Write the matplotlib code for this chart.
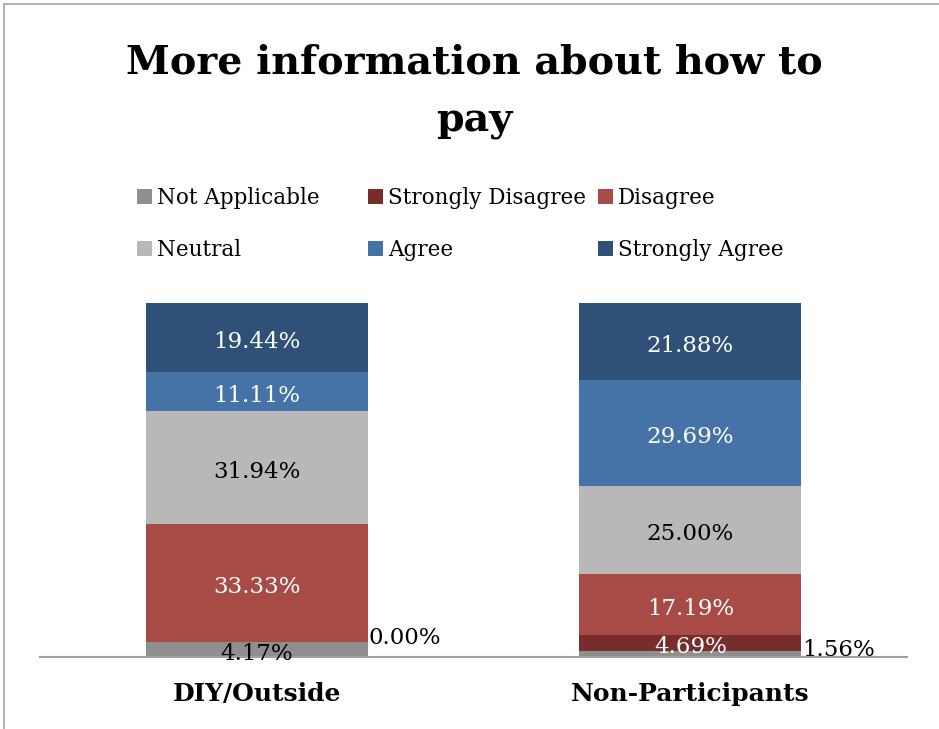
import matplotlib
matplotlib.use("Agg")
import matplotlib.pyplot as plt
from matplotlib.patches import Rectangle
import numpy as np

# Survey responses (% of respondents)
groups = ["DIY/Outside", "Non-Participants"]
responses = ["Not Applicable", "Strongly Disagree", "Disagree",
             "Neutral", "Agree", "Strongly Agree"]
not_applicable = [4.17, 1.56]
strongly_disagree = [0.00, 4.69]
disagree = [33.33, 17.19]
neutral = [31.94, 25.00]
agree = [11.11, 29.69]
strongly_agree = [19.44, 21.88]
series = [not_applicable, strongly_disagree, disagree, neutral, agree, strongly_agree]
title_lines = ["More information about how to", "pay"]

colors = ["#8F8F8F", "#772D2B", "#A84B46", "#B8B8B8", "#4673A7", "#2F5178"]
text_colors = ["black", "white", "white", "black", "white", "white"]

plt.rcParams["font.family"] = ["DejaVu Serif"]

W, H, DPI = 939, 729, 100
fig = plt.figure(figsize=(W / DPI, H / DPI), dpi=DPI)

# outer frame (top and left edges visible)
fig.patches.append(Rectangle((4 / W, -0.1), 1.2, (729 - 3.5) / H + 0.1,
                             transform=fig.transFigure, fill=False,
                             edgecolor="#A6A6A6", linewidth=1.2))

ax = fig.add_axes([40 / W, (H - 657) / H, 867 / W, 354 / H])
x = np.arange(len(groups))
bar_w = 0.512
bottom = np.zeros(len(groups))
for vals, col, tcol in zip(series, colors, text_colors):
    vals = np.asarray(vals)
    bars = ax.bar(x, vals, bar_w, bottom=bottom, color=col, edgecolor="none", zorder=2)
    for i, (b, v) in enumerate(zip(bars, vals)):
        mid = bottom[i] + v / 2
        label = f"{v:.2f}%"
        if v < 2:
            ax.annotate(label, (x[i] + bar_w / 2, mid), xytext=(0.5, 3),
                        textcoords="offset points", ha="left", va="center",
                        fontsize=16.5, color="black", zorder=4)
        else:
            ax.annotate(label, (x[i], mid), xytext=(0, -3),
                        textcoords="offset points", ha="center", va="center",
                        fontsize=16.5, color=tcol, zorder=4)
    bottom += vals

ax.set_xlim(-0.5, 1.5)
ax.set_ylim(0, 100)
for s in ["top", "right", "left"]:
    ax.spines[s].set_visible(False)
ax.spines["bottom"].set_color("#A0A0A0")
ax.spines["bottom"].set_linewidth(1.5)
ax.set_yticks([])
ax.set_xticks(x)
ax.set_xticklabels(groups, fontsize=18, fontweight="bold")
ax.tick_params(axis="x", length=0, pad=18)

# title, two centred lines
for line, yc in zip(title_lines, [62, 121]):
    fig.text(474 / W, 1 - yc / H, line, ha="center", va="center",
             fontsize=28.5, fontweight="bold")

# legend laid out in three columns, two rows
col_x = [137, 368, 598]
row_y = [196, 248]
for i, (name, col) in enumerate(zip(responses, colors)):
    r, c = divmod(i, 3)
    fig.patches.append(Rectangle((col_x[c] / W, 1 - (row_y[r] + 7.5) / H),
                                 15 / W, 15 / H, transform=fig.transFigure,
                                 facecolor=col, edgecolor="none"))
    fig.text((col_x[c] + 20) / W, 1 - (row_y[r] + 2) / H, name,
             ha="left", va="center", fontsize=15.5)

fig.savefig("out.png", dpi=DPI)
